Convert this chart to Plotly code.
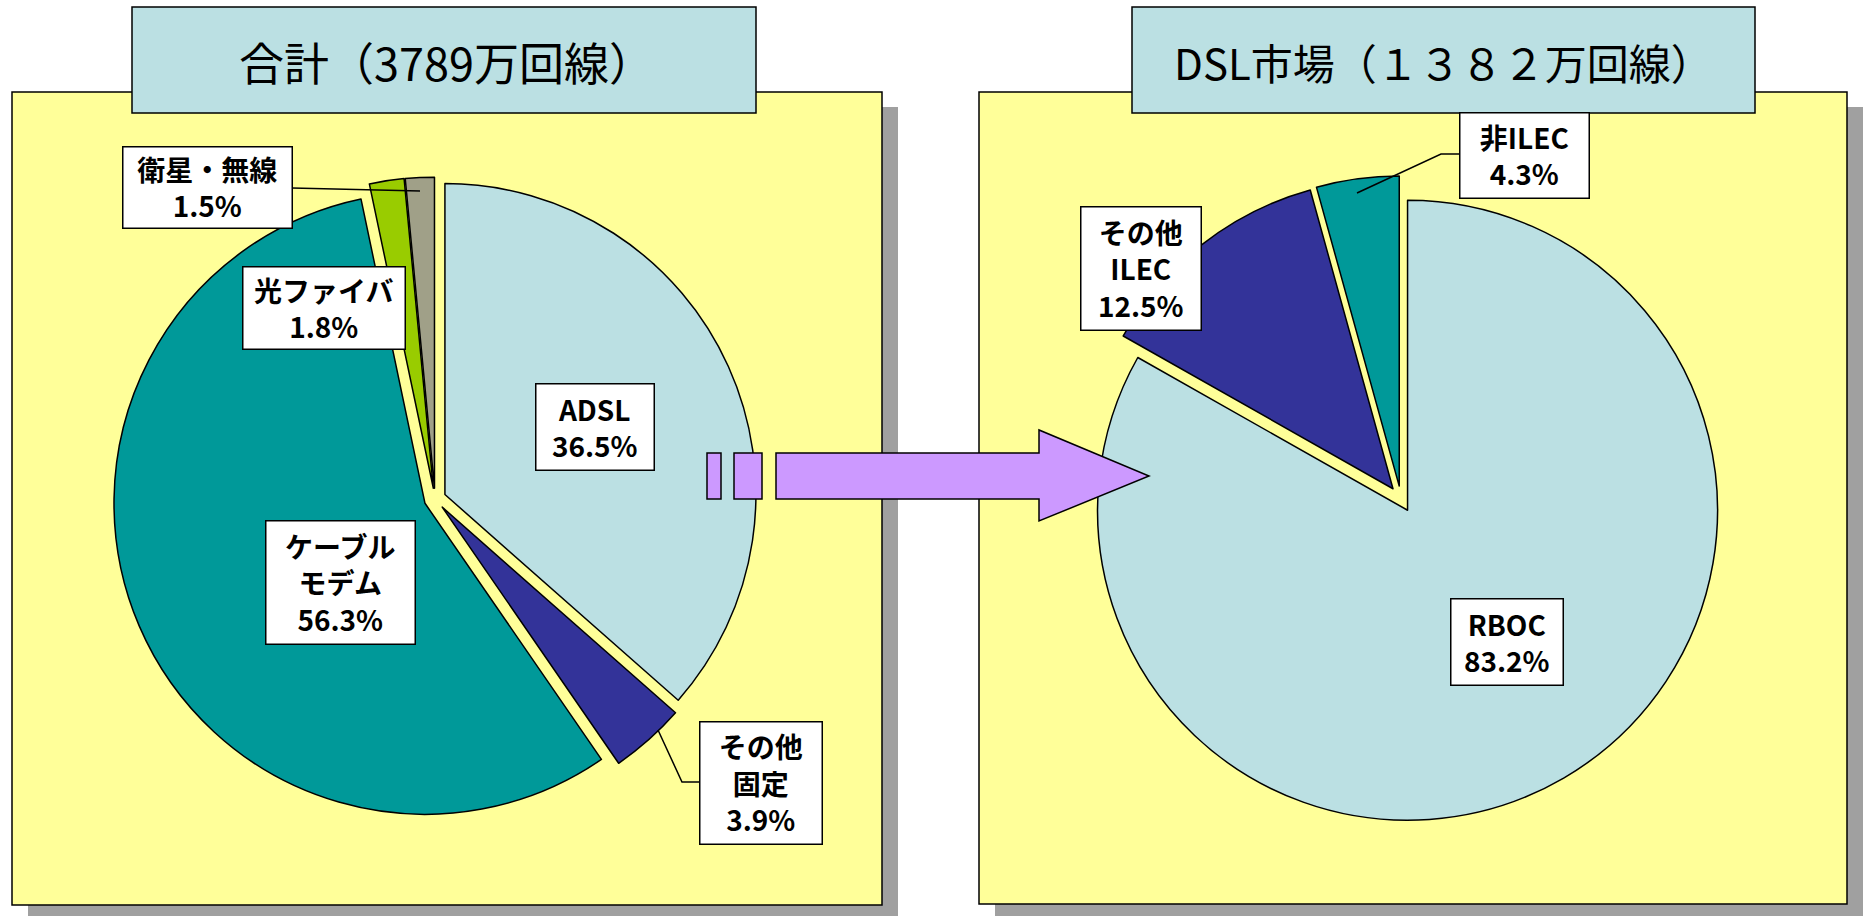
import plotly.graph_objects as go

# ---------------- data ----------------
total_title = "合計（3789万回線）"
total_names = ["ADSL", "その他<br>固定", "ケーブル<br>モデム", "光ファイバ", "衛星・無線"]
total_values = [36.5, 3.9, 56.3, 1.8, 1.5]

dsl_title = "DSL市場（１３８２万回線）"
dsl_names = ["RBOC", "その他<br>ILEC", "非ILEC"]
dsl_values = [83.2, 12.5, 4.3]

# ---------------- styles / layout ----------------
W, H = 1868, 916
total_colors = ["#BBE0E3", "#333399", "#009999", "#99CC00", "#A0A088"]
dsl_colors = ["#BBE0E3", "#333399", "#009999"]
YELLOW = "#FFFF99"
SHADOW = "#A0A0A0"
TITLE_FILL = "#BBE0E3"
ARROW = "#CC99FF"
FONT = "Noto Sans CJK JP"


def px(x):
    return x / W


def py(y):
    return 1 - y / H


def pie_domain(cx, cy, r, pull):
    half = r * (1 + pull)
    return dict(x=[px(cx - half), px(cx + half)], y=[py(cy + half), py(cy - half)])


fig = go.Figure()

left_pull, right_pull = 0.035, 0.042
fig.add_trace(go.Pie(
    labels=[n.replace("<br>", "") for n in total_names], values=total_values,
    sort=False, direction="clockwise", rotation=0,
    marker=dict(colors=total_colors, line=dict(color="black", width=1.5)),
    pull=[left_pull] * len(total_values), textinfo="none", showlegend=False,
    domain=pie_domain(435, 499, 311, left_pull), hoverinfo="label+percent",
))
fig.add_trace(go.Pie(
    labels=[n.replace("<br>", "") for n in dsl_names], values=dsl_values,
    sort=False, direction="clockwise", rotation=0,
    marker=dict(colors=dsl_colors, line=dict(color="black", width=1.5)),
    pull=[right_pull] * len(dsl_values), textinfo="none", showlegend=False,
    domain=pie_domain(1401, 499, 310, right_pull), hoverinfo="label+percent",
))

shapes = []


def rect(x0, y0, x1, y1, fill, line_w=1.5, line_c="black", layer="above"):
    shapes.append(dict(type="rect", xref="paper", yref="paper",
                       x0=px(x0), x1=px(x1), y0=py(y1), y1=py(y0),
                       fillcolor=fill, line=dict(color=line_c, width=line_w),
                       layer=layer))


def path(points, fill=None, closed=False, layer="above"):
    d = "M " + " L ".join(f"{px(x):.6f},{py(y):.6f}" for x, y in points)
    if closed:
        d += " Z"
    s = dict(type="path", xref="paper", yref="paper", path=d,
             line=dict(color="black", width=1.5), layer=layer)
    if fill:
        s["fillcolor"] = fill
    shapes.append(s)


# panels with drop shadows
for (x0, y0, x1, y1) in [(12, 92, 882, 905), (979, 92, 1847, 904)]:
    rect(x0 + 16, y0 + 15, x1 + 16, y1 + 15, SHADOW, line_w=0, line_c=SHADOW, layer="below")
    rect(x0, y0, x1, y1, YELLOW, layer="below")

# title boxes
rect(132, 7, 756, 113, TITLE_FILL)
rect(1132, 7, 1755, 113, TITLE_FILL)

# arrow
rect(707, 453, 721, 499, ARROW)
rect(734, 453, 762, 499, ARROW)
path([(776, 453), (1039, 453), (1039, 430), (1149, 476), (1039, 521),
      (1039, 499), (776, 499)], fill=ARROW, closed=True)

# leader lines
path([(292, 188), (420, 191)])
path([(700, 782), (682, 782), (658, 730)])
path([(1460, 154), (1441, 154), (1357, 193)])

annotations = []
annotations.append(dict(text=total_title, x=px(446), y=py(61), xref="paper", yref="paper",
                        xanchor="center", yanchor="middle", showarrow=False,
                        font=dict(family=FONT, size=45, color="black")))
annotations.append(dict(text=dsl_title, x=px(1443), y=py(61), xref="paper", yref="paper",
                        xanchor="center", yanchor="middle", showarrow=False,
                        font=dict(family=FONT, size=42, color="black")))

left_boxes = [(536, 384, 654, 470), (700, 722, 822, 844), (266, 521, 415, 644),
              (243, 267, 405, 349), (123, 147, 292, 228)]
right_boxes = [(1451, 599, 1563, 685), (1081, 207, 1201, 330), (1460, 113, 1589, 198)]

for names, vals, boxes in [(total_names, total_values, left_boxes),
                           (dsl_names, dsl_values, right_boxes)]:
    for n, v, (x0, y0, x1, y1) in zip(names, vals, boxes):
        annotations.append(dict(
            text=f"{n}<br>{v:.1f}%", x=px((x0 + x1) / 2), y=py((y0 + y1) / 2),
            xref="paper", yref="paper", xanchor="center", yanchor="middle",
            showarrow=False, width=x1 - x0 - 1.5, height=y1 - y0 - 1.5,
            bgcolor="white", bordercolor="black", borderwidth=1.5, borderpad=0,
            align="center", valign="middle",
            font=dict(family=FONT, size=28, color="black", weight="bold")))

fig.update_layout(width=W, height=H, margin=dict(l=0, r=0, t=0, b=0),
                  paper_bgcolor="white", plot_bgcolor="white",
                  shapes=shapes, annotations=annotations, autosize=False)

fig.write_html("out.html")
